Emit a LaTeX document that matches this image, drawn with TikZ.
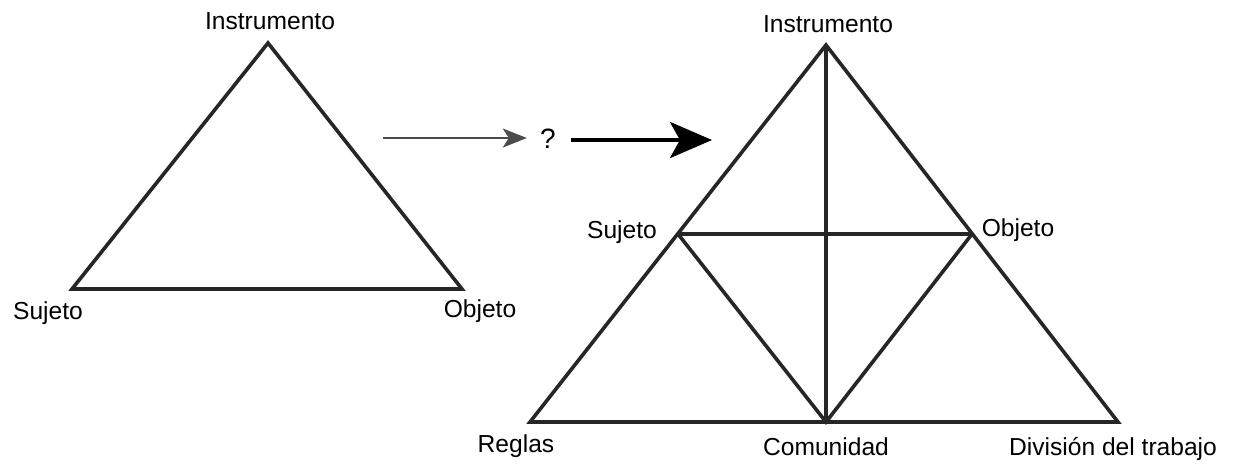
\documentclass[tikz,border=0pt]{standalone}
\usepackage{fontspec}
\setmainfont{Liberation Sans}
\usetikzlibrary{arrows.meta, positioning}

\begin{document}
\begin{tikzpicture}[
    x=0.5pt, y=-0.5pt,
    font=\fontsize{12.3}{14}\selectfont,
    lbl/.style={inner sep=0pt},
    edge/.style={line width=1.8pt, line join=miter, draw=black!85},
    thinarrow/.style={-{Stealth[length=12pt, width=9.5pt, inset=3pt]}, line width=1.1pt, draw=black!70},
    thickarrow/.style={-{Stealth[length=21pt, width=18pt, inset=5pt]}, line width=2.4pt, draw=black}
]
\useasboundingbox (0,0) rectangle (1245,463);

% Left triangle
\coordinate (lI) at (268,43);
\coordinate (lS) at (72,289);
\coordinate (lO) at (462,289);
\draw[edge] (lI) -- (lS) -- (lO) -- cycle;

\node[lbl] (lInst) at (270,21) {Instrumento};
\node[lbl] (lSuj) at (48,313) {Sujeto};
\node[lbl] (lObj) at (480,311) {Objeto};

% Arrows with question mark
\node[lbl, font=\fontsize{14}{16}\selectfont] (q) at (548,139) {?};
\coordinate (a0) at (383,138);
\coordinate (b1) at (712,140);
\draw[thinarrow] (a0) -- ([xshift=-6.5pt]q.west |- a0);
\draw[thickarrow] ([xshift=7.5pt]q.east |- b1) -- (b1);

% Right triangle
\coordinate (rI) at (826,45);
\coordinate (rR) at (530,422);
\coordinate (rD) at (1118,422);
\coordinate (rS) at (678,234);
\coordinate (rO) at (972,234);
\coordinate (rC) at (826,422);
\draw[edge] (rI) -- (rR) -- (rD) -- cycle;
\draw[edge] (rS) -- (rO);
\draw[edge] (rI) -- (rC);
\draw[edge] (rS) -- (rC) -- (rO);

\node[lbl] (rInst) at (828,24) {Instrumento};
\node[lbl] (rSuj) at (622,232) {Sujeto};
\node[lbl] (rObj) at (1018,230) {Objeto};
\node[lbl] (rReg) at (516,446) {Reglas};
\node[lbl] (rCom) at (826,447) {Comunidad};
\node[lbl] (rDiv) at (1113,449) {División del trabajo};

\end{tikzpicture}
\end{document}
